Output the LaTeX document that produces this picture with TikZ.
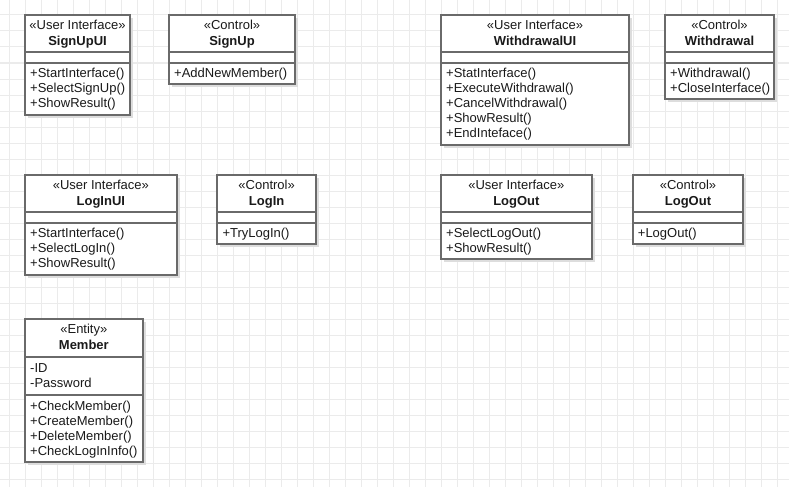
\documentclass[tikz,border=0pt]{standalone}
\usepackage{fontspec}
\setmainfont{Liberation Sans}
\newcommand\umlfs{\fontsize{13}{15}\selectfont}
\definecolor{gridgray}{HTML}{EBEBEB}
\definecolor{boxgray}{HTML}{6A6A6A}
\definecolor{shadowgray}{HTML}{DDDDDD}
\definecolor{txt}{HTML}{1A1A1A}

\tikzset{
  gridline/.style={draw=gridgray, line width=1pt},
  shadowbox/.style={fill=shadowgray, draw=none},
  classbox/.style={draw=boxgray, line width=1.8pt, fill=white},
  divider/.style={draw=boxgray, line width=1.8pt},
  stereo/.style={anchor=base, inner sep=0pt, font=\umlfs, text=txt},
  ctitle/.style={anchor=base, inner sep=0pt, font=\umlfs\bfseries, text=txt},
  member/.style={anchor=base west, inner sep=0pt, font=\umlfs, text=txt},
}

% frame of a class: name, left, top, right, bottom, divider 1, divider 2
\newcommand\classframe[7]{%
  \fill[shadowbox] (#2+3,#3+3) rectangle (#4+3,#5+3);
  \draw[classbox] (#2,#3) rectangle (#4,#5);
  \draw[divider] (#2,#6) -- (#4,#6);
  \draw[divider] (#2,#7) -- (#4,#7);
}
% header text: name, left, top, right, stereotype, title
\newcommand\classhead[6]{%
  \node[stereo] (#1-stereo) at ({(#2+#4)/2},#3+14.5) {«#5»};
  \node[ctitle] (#1-title) at ({(#2+#4)/2},#3+30.5) {#6};
}
% member lines: name, left, first baseline, list
\newcommand\classlines[4]{%
  \foreach \t [count=\i] in {#4} {
    \node[member] (#1-\i) at (#2+5,{#3+15*(\i-1)}) {\t};
  }
}

\begin{document}
\begin{tikzpicture}[x=1pt,y=-1pt]
  \useasboundingbox (0,0) rectangle (789,487);
  \fill[white] (0,0) rectangle (789,487);

  % background grid
  \foreach \gx in {0,...,48} \draw[gridline] (9+16*\gx,0) -- (9+16*\gx,487);
  \foreach \gy in {0,...,29} \draw[gridline] (0,15+16*\gy) -- (789,15+16*\gy);

  % SignUpUI
  \classframe{signupui}{25}{15}{130}{115}{52.3}{62.7}
  \classhead{signupui}{25}{15}{130}{User Interface}{SignUpUI}
  \classlines{signupui-op}{25}{77.2}{+StartInterface(),+SelectSignUp(),+ShowResult()}

  % SignUp
  \classframe{signup}{169}{15}{295}{84}{52.3}{62.7}
  \classhead{signup}{169}{15}{295}{Control}{SignUp}
  \classlines{signup-op}{169}{77.2}{+AddNewMember()}

  % WithdrawalUI
  \classframe{withdrawui}{441}{15}{629}{145}{52.3}{62.7}
  \classhead{withdrawui}{441}{15}{629}{User Interface}{WithdrawalUI}
  \classlines{withdrawui-op}{441}{77.2}{+StatInterface(),+ExecuteWithdrawal(),+CancelWithdrawal(),+ShowResult(),+EndInteface()}

  % Withdrawal
  \classframe{withdraw}{665}{15}{774}{99.3}{52.3}{62.7}
  \classhead{withdraw}{665}{15}{774}{Control}{Withdrawal}
  \classlines{withdraw-op}{665}{77.2}{+Withdrawal(),+CloseInterface()}

  % LogInUI
  \classframe{loginui}{25}{175}{176.7}{275}{212.3}{222.7}
  \classhead{loginui}{25}{175}{176.7}{User Interface}{LogInUI}
  \classlines{loginui-op}{25}{237.2}{+StartInterface(),+SelectLogIn(),+ShowResult()}

  % LogIn
  \classframe{login}{217.3}{175}{316}{244.3}{212.3}{222.7}
  \classhead{login}{217.3}{175}{316}{Control}{LogIn}
  \classlines{login-op}{217.3}{237.2}{+TryLogIn()}

  % LogOut (user interface)
  \classframe{logoutui}{441}{175}{591.7}{259.3}{212.3}{222.7}
  \classhead{logoutui}{441}{175}{591.7}{User Interface}{LogOut}
  \classlines{logoutui-op}{441}{237.2}{+SelectLogOut(),+ShowResult()}

  % LogOut (control)
  \classframe{logout}{632.7}{175}{743.3}{244.3}{212.3}{222.7}
  \classhead{logout}{632.7}{175}{743.3}{Control}{LogOut}
  \classlines{logout-op}{632.7}{237.2}{+LogOut()}

  % Member entity
  \classframe{member}{25}{319}{142.7}{462.3}{356.7}{395}
  \classhead{member}{25}{319}{142.7}{Entity}{Member}
  \classlines{member-attr}{25}{372}{-ID,-Password}
  \classlines{member-op}{25}{410.5}{+CheckMember(),+CreateMember(),+DeleteMember(),+CheckLogInInfo()}
\end{tikzpicture}
\end{document}
